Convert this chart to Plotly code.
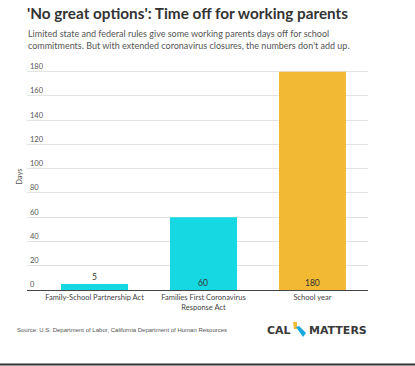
import plotly.graph_objects as go

categories = ["Family-School Partnership Act", "Families First Coronavirus<br>Response Act", "School year"]
values = [5, 60, 180]
bar_colors = ["#15d8e2", "#15d8e2", "#f2b933"]
label_outside = [True, False, False]
y_ticks = [0, 20, 40, 60, 80, 100, 120, 140, 160, 180]

W, H = 415, 366
L, R, B = 27, 368, 290
Y_TOP_VAL = 188
PX_PER_UNIT = (290 - 72) / 180
T = B - Y_TOP_VAL * PX_PER_UNIT

def px(x):
    return (x - L) / (R - L)

def py(y):
    return (B - y) / (B - T)

FONT = "Lato, Noto Sans, sans-serif"

fig = go.Figure(go.Bar(
    x=list(range(len(categories))),
    y=values,
    marker=dict(color=bar_colors, line=dict(width=0)),
    width=0.615,
    hoverinfo="skip",
))

value_annotations = [
    dict(text=str(v), x=i, y=(v if out else 0), xref="x", yref="y",
         xanchor="center", yanchor="bottom", showarrow=False, yshift=0,
         font=dict(family=FONT, size=8.5, color="#333333"))
    for i, (v, out) in enumerate(zip(values, label_outside))
]

fig.update_layout(
    width=W, height=H,
    margin=dict(l=L, r=W - R, t=T, b=H - B, autoexpand=False),
    paper_bgcolor="white", plot_bgcolor="white",
    showlegend=False,
    xaxis=dict(
        range=[-0.62, 2.51], automargin=False,
        tickmode="array", tickvals=list(range(len(categories))), ticktext=categories,
        showgrid=False, zeroline=False,
        showline=True, linecolor="#444444", linewidth=1,
        ticks="", tickfont=dict(family=FONT, size=7.5, color="#444444"),
        fixedrange=True,
    ),
    yaxis=dict(
        range=[0, Y_TOP_VAL], automargin=False,
        tickmode="array", tickvals=y_ticks,
        ticklabelposition="inside top",
        showgrid=True, gridcolor="#e3e3e3", gridwidth=1,
        zeroline=False, showline=False, ticks="",
        tickfont=dict(family=FONT, size=7.5, color="#555555"),
        fixedrange=True,
    ),
    annotations=value_annotations + [
        dict(text="'No great options': Time off for working parents",
             x=px(25), y=py(13), xref="paper", yref="paper", xanchor="left", yanchor="middle",
             showarrow=False, font=dict(family=FONT, size=15.3, color="#333333", weight="bold")),
        dict(text="Limited state and federal rules give some working parents days off for school<br>commitments. But with extended coronavirus closures, the numbers don't add up.",
             x=px(26), y=py(40), xref="paper", yref="paper", xanchor="left", yanchor="middle", align="left",
             showarrow=False, font=dict(family=FONT, size=9, color="#555555")),
        dict(text="Days", textangle=-90,
             x=px(20), y=py(177), xref="paper", yref="paper", xanchor="center", yanchor="middle",
             showarrow=False, font=dict(family=FONT, size=7.5, color="#555555")),
        dict(text="Source: U.S. Department of Labor, California Department of Human Resources",
             x=px(15), y=py(330), xref="paper", yref="paper", xanchor="left", yanchor="middle",
             showarrow=False, font=dict(family="Liberation Sans, Arial, sans-serif", size=6, color="#555555")),
        dict(text="CAL",
             x=px(293), y=py(330), xref="paper", yref="paper", xanchor="right", yanchor="middle",
             showarrow=False, font=dict(family="DejaVu Sans, sans-serif", size=11, color="#3a3a3a", weight="bold")),
        dict(text="MATTERS",
             x=px(307), y=py(330), xref="paper", yref="paper", xanchor="left", yanchor="middle",
             showarrow=False, font=dict(family="DejaVu Sans, sans-serif", size=11, color="#3a3a3a", weight="bold")),
    ],
    shapes=[
        dict(type="path", xref="paper", yref="paper",
             path=f"M {px(293)},{py(322)} L {px(297)},{py(322)} L {px(297)},{py(329)} L {px(294)},{py(329)} Z",
             fillcolor="#f2b933", line=dict(width=0)),
        dict(type="path", xref="paper", yref="paper",
             path=f"M {px(296)},{py(327)} L {px(299)},{py(326)} L {px(306)},{py(333)} L {px(303)},{py(337)} Z",
             fillcolor="#17a8e0", line=dict(width=0)),
        dict(type="line", xref="paper", yref="paper",
             x0=px(0), x1=px(415), y0=py(364.5), y1=py(364.5),
             line=dict(color="#333333", width=2)),
    ],
)

fig.write_html(
    "out.html",
    config={"displayModeBar": False},
    post_script="document.body.style.margin='0';document.body.style.padding='0';",
)
